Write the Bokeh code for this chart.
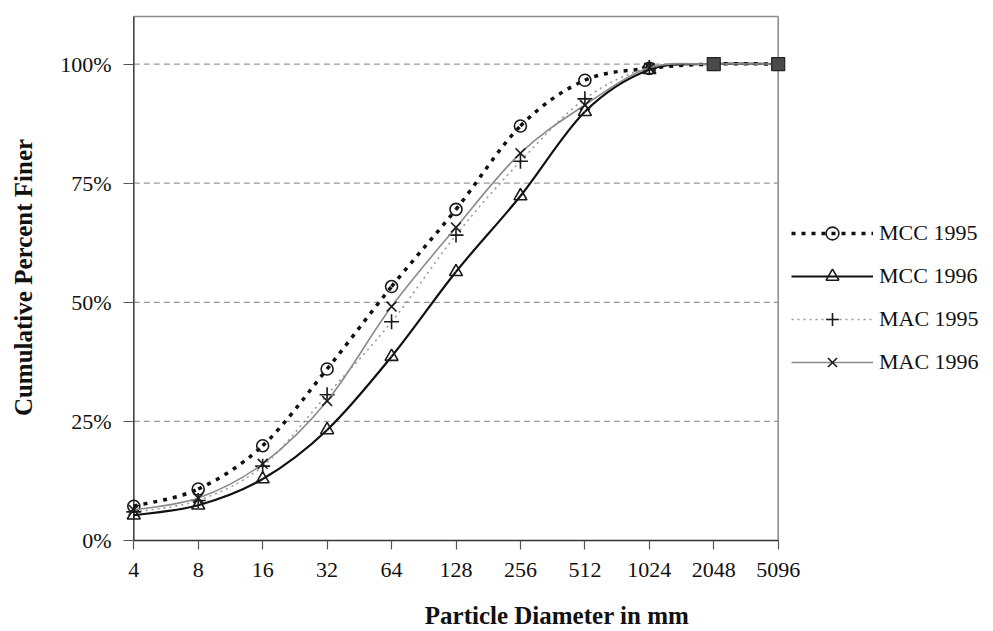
import numpy as np
from bokeh.plotting import figure
from bokeh.models import Range1d, FixedTicker, PrintfTickFormatter, Legend, LegendItem
from bokeh.embed import file_html
from bokeh.resources import INLINE

# ---------------- data ----------------
categories = ["4", "8", "16", "32", "64", "128", "256", "512", "1024", "2048", "5096"]
mcc_1995 = [7.2, 10.8, 19.9, 36.0, 53.3, 69.5, 87.0, 96.6, 99.1, 100, 100]
mcc_1996 = [5.3, 7.4, 12.9, 23.2, 38.6, 56.4, 72.3, 90.0, 98.8, 100, 100]
mac_1995 = [6.0, 8.4, 15.6, 30.6, 45.9, 64.1, 79.6, 92.7, 99.3, 100, 100]
mac_1996 = [6.4, 8.9, 16.1, 29.3, 49.1, 65.7, 81.3, 91.4, 99.2, 100, 100]
series_names = ["MCC 1995", "MCC 1996", "MAC 1995", "MAC 1996"]
end_categories = ["2048", "5096"]
y_ticks = [0, 25, 50, 75, 100]
y_top = 110
x_title = "Particle Diameter in mm"
y_title = "Cumulative Percent Finer"

FONT = "Liberation Serif"
n = len(categories)
xs = np.arange(n, dtype=float)

# layout (screen pixels): plot area spans the categories, the frame also holds the legend
W, H = 993, 631
left_px, right_px = 123, 3
unit_px = 64.44
pad = 10.3 / unit_px
frame_w = W - left_px - right_px
x_end = frame_w / unit_px - pad

p = figure(width=W, height=H, output_backend="svg", toolbar_location=None,
           x_range=Range1d(-pad, x_end), y_range=Range1d(0, y_top + 0.4),
           min_border_left=left_px, min_border_right=right_px, min_border_top=14,
           min_border_bottom=91)
p.outline_line_color = None
p.xgrid.visible = False
p.ygrid.visible = False
p.background_fill_color = "white"
p.border_fill_color = "white"

# grid lines, the value axis line, top and right border of the plot area
p.segment(x0=[0] * 4, x1=[n - 1] * 4, y0=y_ticks[1:], y1=y_ticks[1:],
          line_color="#999999", line_width=1.2, line_dash="6 4")
p.segment(x0=[0, n - 1], x1=[n - 1, n - 1], y0=[y_top, 0], y1=[y_top, y_top],
          line_color="#8a8a8a", line_width=1.5)
p.segment(x0=[0], x1=[0], y0=[0], y1=[y_top], line_color="#444444", line_width=1.6)


def bezier_parts(ys):
    y = np.asarray(ys, dtype=float)
    x = xs
    xp = np.concatenate([[x[0]], x, [x[-1]]])
    yp = np.concatenate([[y[0]], y, [y[-1]]])
    px, py = xp[0:n - 1], yp[0:n - 1]
    nx, ny = xp[3:n + 2], yp[3:n + 2]
    return dict(x0=x[:-1], y0=y[:-1], x1=x[1:], y1=y[1:],
                cx0=x[:-1] + (x[1:] - px) / 6, cy0=y[:-1] + (y[1:] - py) / 6,
                cx1=x[1:] - (nx - x[:-1]) / 6, cy1=y[1:] - (ny - y[:-1]) / 6)


styles = [
    dict(vals=mcc_1995, line=dict(line_color="#111111", line_width=3.5, line_dash="4 6"),
         marker="circle", size=12),
    dict(vals=mcc_1996, line=dict(line_color="#111111", line_width=2.2),
         marker="triangle", size=13),
    dict(vals=mac_1995, line=dict(line_color="#9a9a9a", line_width=1.6, line_dash="2 4"),
         marker="cross", size=15),
    dict(vals=mac_1996, line=dict(line_color="#8a8a8a", line_width=1.6),
         marker="x", size=14),
]

n_marked = n - len(end_categories)
items = []
for name, st in zip(series_names, styles):
    b = p.bezier(**bezier_parts(st["vals"]), **st["line"])
    s = p.scatter(x=xs[:n_marked], y=st["vals"][:n_marked], marker=st["marker"], size=st["size"],
                  line_color="#1a1a1a", line_width=1.6, fill_color=None)
    items.append(LegendItem(label=name, renderers=[b, s]))

end_idx = [categories.index(c) for c in end_categories]
p.scatter(x=end_idx, y=[mcc_1995[i] for i in end_idx], marker="square", size=13,
          fill_color="#4a4a4a", line_color="#222222", line_width=1.2)

# axes
xa = p.xaxis[0]
xa.ticker = FixedTicker(ticks=list(range(n)))
xa.major_label_overrides = {i: c for i, c in enumerate(categories)}
xa.bounds = (0, n - 1)
xa.minor_tick_line_color = None
xa.major_tick_out = 9
xa.major_tick_in = 0
xa.axis_line_color = "#333333"
xa.axis_line_width = 1.5
xa.major_tick_line_color = "#555555"
xa.major_tick_line_width = 1.2
xa.major_label_standoff = 13
xa.major_label_text_font = FONT
xa.major_label_text_font_size = "22px"
xa.major_label_text_color = "#111111"
xa.axis_label = x_title
xa.axis_label_text_font = FONT
xa.axis_label_text_font_size = "25px"
xa.axis_label_text_font_style = "bold"
xa.axis_label_text_color = "#111111"
xa.axis_label_standoff = 22

ya = p.yaxis[0]
ya.ticker = FixedTicker(ticks=y_ticks)
ya.formatter = PrintfTickFormatter(format="%d%%")
ya.minor_tick_line_color = None
ya.axis_line_color = None
ya.major_tick_out = 0
ya.major_tick_in = 10
ya.major_tick_line_color = "#555555"
ya.major_tick_line_width = 1.2
ya.major_label_standoff = 12
ya.major_label_text_font = FONT
ya.major_label_text_font_size = "22px"
ya.major_label_text_color = "#111111"
ya.axis_label = y_title
ya.axis_label_text_font = FONT
ya.axis_label_text_font_size = "25px"
ya.axis_label_text_font_style = "bold"
ya.axis_label_text_color = "#111111"
ya.axis_label_standoff = 20

legend = Legend(items=items, location=(668, 162), glyph_width=82, glyph_height=32,
                label_height=24, spacing=11, label_standoff=6, padding=0, margin=0,
                border_line_color=None, background_fill_alpha=0,
                label_text_font=FONT, label_text_font_size="22px", label_text_color="#111111")
p.add_layout(legend)

open("out.html", "w").write(file_html(p, INLINE))
